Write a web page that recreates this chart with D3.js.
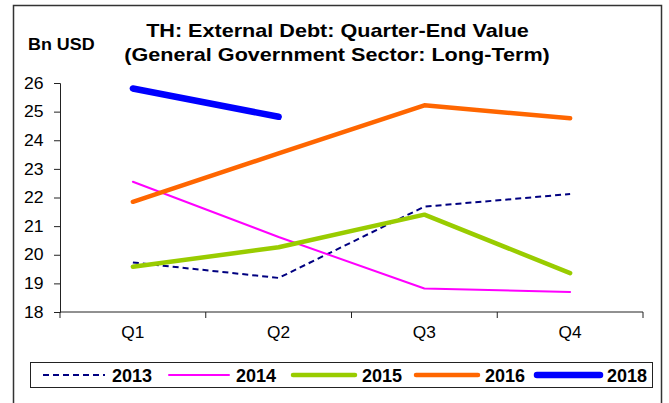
<!DOCTYPE html>
<html>
<head>
<meta charset="utf-8">
<script src="https://cdn.jsdelivr.net/npm/d3@7"></script>
<style>
  body { margin: 0; background: #fff; }
  svg { font-family: "Liberation Sans", Arial, sans-serif; }
</style>
</head>
<body>
<script>
// chart data
const quarters = ["Q1", "Q2", "Q3", "Q4"];
const years = ["2013", "2014", "2015", "2016", "2018"];
const v2013 = [19.73, 19.19, 21.68, 22.12];
const v2014 = [22.55, 20.62, 18.82, 18.70];
const v2015 = [19.58, 20.26, 21.40, 19.36];
const v2016 = [21.85, 23.54, 25.22, 24.77];
const v2018 = [25.81, 24.82];
const yTicks = [18, 19, 20, 21, 22, 23, 24, 25, 26];

const series = [
  {name: years[0], values: v2013, color: "#000080", w: 2, dash: "6,4"},
  {name: years[1], values: v2014, color: "#ff00ff", w: 2, dash: null},
  {name: years[2], values: v2015, color: "#99cc00", w: 4.5, dash: null},
  {name: years[3], values: v2016, color: "#ff6600", w: 4.5, dash: null},
  {name: years[4], values: v2018, color: "#0000ff", w: 6.5, dash: null}
];

let svg, x, y;
const W = 669, H = 403;
const plot = {left: 60, right: 643, top: 83, bottom: 312};

setupSvg();
setupScales();
drawFrame();
drawAxes();
drawLines();
drawTitle();
drawLegend();

function setupSvg() {
  svg = d3.select("body").append("svg")
    .attr("width", W)
    .attr("height", H);
}

function setupScales() {
  x = d3.scaleBand().domain(quarters).range([plot.left, plot.right]);
  y = d3.scaleLinear().domain([18, 26]).range([plot.bottom, plot.top]);
}

// the reference text is a bit wider than Arial, so stretch it sideways
function wideText(parent, tx, ty, sx) {
  return parent.append("text")
    .attr("transform", `translate(${tx},${ty}) scale(${sx},1)`);
}

function drawFrame() {
  svg.append("rect")
    .attr("x", 13.5).attr("y", 5.5)
    .attr("width", 648).attr("height", 410)
    .attr("fill", "none")
    .attr("stroke", "#333").attr("stroke-width", 1.5);
}

function drawAxes() {
  const yAxis = svg.append("g")
    .attr("transform", `translate(${plot.left},0)`)
    .call(d3.axisLeft(y).tickValues(yTicks).tickSize(6));
  yAxis.select(".domain").attr("stroke", "#222");
  yAxis.selectAll(".tick line").attr("stroke", "#222");
  yAxis.selectAll("text")
    .attr("x", 0)
    .attr("transform", "translate(-16.5,0) scale(1.1,1)")
    .attr("font-size", 16).attr("fill", "#000")
    .attr("font-family", "Liberation Sans, Arial, sans-serif");

  // x axis: ticks at band edges, labels centred in bands
  const xAxis = svg.append("g")
    .attr("transform", `translate(0,${plot.bottom})`);
  xAxis.append("line")
    .attr("x1", plot.left).attr("x2", plot.right)
    .attr("stroke", "#222");
  const edges = quarters.map(q => x(q)).concat([x.range()[1]]);
  xAxis.selectAll(".edge").data(edges).enter().append("line")
    .attr("x1", d => d).attr("x2", d => d)
    .attr("y1", 0).attr("y2", 6)
    .attr("stroke", "#222");
  quarters.forEach(q => {
    wideText(xAxis, x(q) + x.bandwidth() / 2, 26, 1.08)
      .attr("text-anchor", "middle")
      .attr("font-size", 16)
      .text(q);
  });
}

function drawLines() {
  const line = d3.line()
    .x((d, i) => x(quarters[i]) + x.bandwidth() / 2)
    .y(d => y(d));
  svg.selectAll(".series").data(series).enter().append("path")
    .attr("d", d => line(d.values))
    .attr("fill", "none")
    .attr("stroke", d => d.color)
    .attr("stroke-width", d => d.w)
    .attr("stroke-dasharray", d => d.dash)
    .attr("stroke-linecap", d => d.dash ? "butt" : "round")
    .attr("stroke-linejoin", "round");
}

function drawTitle() {
  wideText(svg, 28, 50, 1.12)
    .attr("font-size", 16).attr("font-weight", "bold")
    .text("Bn USD");
  wideText(svg, 337.5, 37, 1.2)
    .attr("text-anchor", "middle")
    .attr("font-size", 18).attr("font-weight", "bold")
    .text("TH: External Debt: Quarter-End Value");
  wideText(svg, 337, 61, 1.2)
    .attr("text-anchor", "middle")
    .attr("font-size", 18).attr("font-weight", "bold")
    .text("(General Government Sector: Long-Term)");
}

function drawLegend() {
  const g = svg.append("g");
  g.append("rect")
    .attr("x", 30.5).attr("y", 362.5)
    .attr("width", 622).attr("height", 25)
    .attr("fill", "#fff").attr("stroke", "#222");
  const lx = [43, 169, 293, 416, 537];
  const lw = [62, 60, 62, 62, 63];
  const items = g.selectAll(".leg").data(series).enter().append("g");
  items.append("line")
    .attr("x1", (d, i) => lx[i]).attr("x2", (d, i) => lx[i] + lw[i])
    .attr("y1", 375).attr("y2", 375)
    .attr("stroke", d => d.color)
    .attr("stroke-width", d => d.w)
    .attr("stroke-dasharray", d => d.dash)
    .attr("stroke-linecap", d => d.dash ? "butt" : "round");
  items.append("text")
    .attr("x", (d, i) => lx[i] + lw[i] + 7)
    .attr("y", 381.5)
    .attr("font-size", 18).attr("font-weight", "bold")
    .text(d => d.name);
}
</script>
</body>
</html>
